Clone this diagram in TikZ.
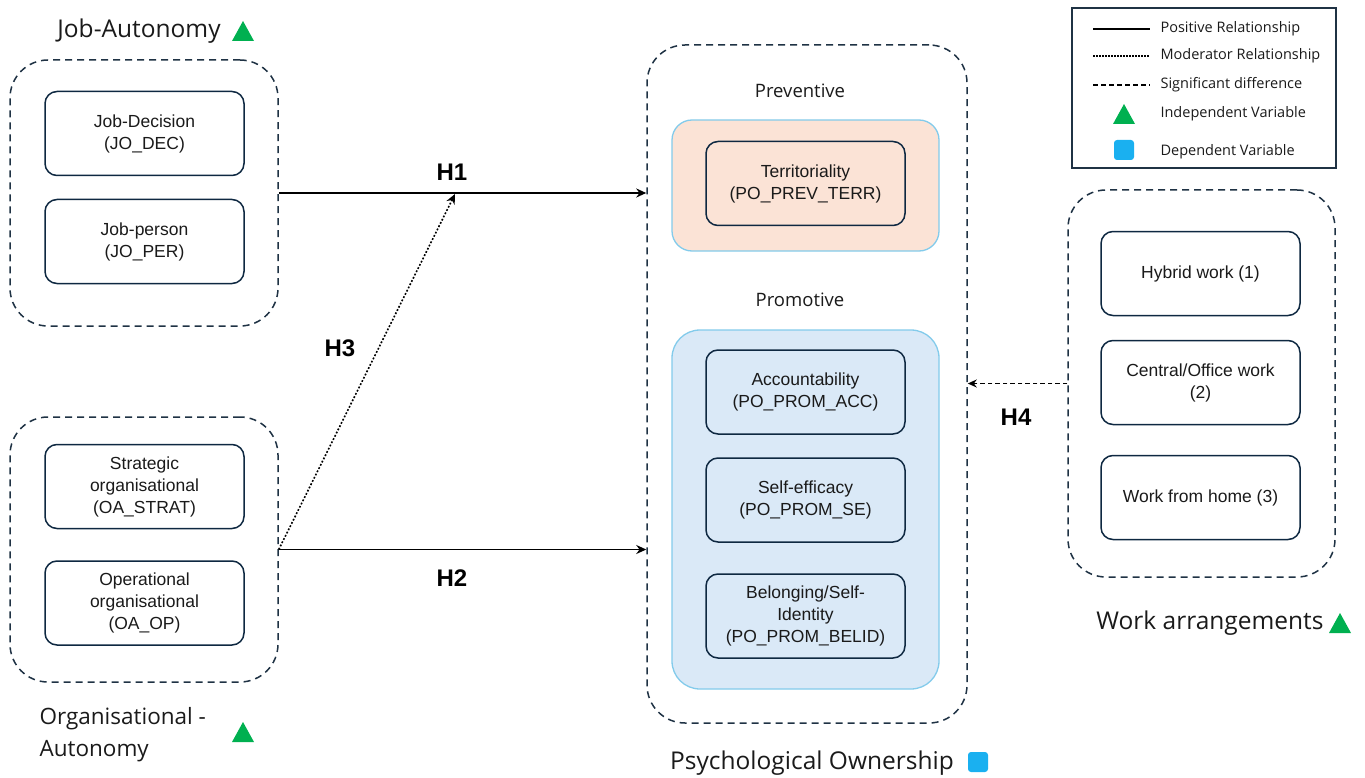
\documentclass[tikz,border=0pt]{standalone}
\usepackage{fontspec}
\setmainfont{Liberation Sans}
\newfontfamily\headfont{Open Sans}
\usetikzlibrary{arrows.meta,positioning}
\definecolor{navy}{HTML}{1F3244}
\definecolor{boxline}{HTML}{0E2841}
\definecolor{peach}{HTML}{FBE3D6}
\definecolor{paleblue}{HTML}{DAE9F7}
\definecolor{skyline}{HTML}{83CBEB}
\definecolor{indepgreen}{HTML}{00B050}
\definecolor{depblue}{HTML}{1AB0F0}
\definecolor{txt}{HTML}{1A1A1A}

\begin{document}
\begin{tikzpicture}[x=1pt,y=-1pt,
  grp/.style={draw=navy, line width=1.5pt, dash pattern=on 7pt off 5pt, rounded corners=38pt, inner sep=0pt},
  item/.style={draw=boxline, line width=1.5pt, rounded corners=12pt, minimum width=199pt, minimum height=84pt,
    align=center, inner sep=2pt, text=txt, font=\fontsize{17.5}{22}\selectfont},
  sub/.style={draw=skyline, line width=1.3pt, rounded corners=20pt, minimum width=267pt, inner sep=0pt},
  head/.style={text=txt, font=\headfont\fontsize{24.5}{32}\selectfont},
  hyp/.style={font=\bfseries\fontsize{24}{26}\selectfont},
  legtxt/.style={anchor=west, text=txt, font=\headfont\fontsize{14.5}{16}\selectfont},
  link/.style={line width=1.8pt, -{Stealth[length=10pt,width=9pt]}},
  indep/.pic={\fill[indepgreen] (-11,10) -- (11,10) -- (0,-10) -- cycle;},
  dep/.pic={\fill[depblue, rounded corners=3pt] (-10,-10) rectangle (10,10);}]
\useasboundingbox (0,0) rectangle (1365,778);

% job autonomy
\node[grp, minimum width=268pt, minimum height=266pt] (ja) at (144,193) {};
\node[item] (jodec) at (144.5,133.5) {Job-Decision\\(JO\_DEC)};
\node[item] (joper) at (144.5,241.5) {Job-person\\(JO\_PER)};
\node[head] (jahead) at (139,31) {Job-Autonomy};
\pic at (243,31) {indep};

% organisational autonomy
\node[grp, minimum width=268pt, minimum height=265pt] (oa) at (144,549.5) {};
\node[item] (oastrat) at (144.5,486.5) {Strategic\\organisational\\(OA\_STRAT)};
\node[item] (oaop) at (144.5,603) {Operational\\organisational\\(OA\_OP)};
\node[head, anchor=west, align=left, font=\headfont\fontsize{22.5}{32}\selectfont] (oahead) at (36,735) {Organisational -\\Autonomy};
\pic at (243,732) {indep};

% psychological ownership
\node[grp, minimum width=320pt, minimum height=678pt] (po) at (807,384) {};
\node[sub, fill=peach, minimum height=131pt] (prev) at (805.5,185.5) {};
\node[sub, fill=paleblue, minimum height=359pt, rounded corners=28pt] (prom) at (805.5,509.5) {};
\node[text=txt, font=\headfont\fontsize{18.5}{20}\selectfont] (prevhead) at (800,91) {Preventive};
\node[text=txt, font=\headfont\fontsize{18.5}{20}\selectfont] (promhead) at (800,300) {Promotive};
\node[item] (terr) at (805.5,183.5) {Territoriality\\(PO\_PREV\_TERR)};
\node[item] (acc) at (805.5,392) {Accountability\\(PO\_PROM\_ACC)};
\node[item] (se) at (805.5,500) {Self-efficacy\\(PO\_PROM\_SE)};
\node[item] (belid) at (805.5,616) {Belonging/Self-\\Identity\\(PO\_PROM\_BELID)};
\node[head] (pohead) at (812,763) {Psychological Ownership};
\pic at (978,762) {dep};

% work arrangements
\node[grp, minimum width=267pt, minimum height=387pt] (wa) at (1201.5,383.5) {};
\node[item] (hybrid) at (1200.5,273.5) {Hybrid work (1)};
\node[item] (office) at (1200.5,382.5) {Central/Office work\\(2)};
\node[item] (home) at (1200.5,497.5) {Work from home (3)};
\node[head] (wahead) at (1210,623) {Work arrangements};
\pic at (1340,623) {indep};

% hypotheses
\coordinate (h3end) at (455,194);
\draw[link] (ja.east) -- (ja.east -| po.west);
\draw[link] (oa.east) -- (oa.east -| po.west);
\draw[link, line width=1.6pt, dash pattern=on 1.8pt off 1.8pt] (oa.east) -- (h3end);
\draw[link, line width=1.4pt, dash pattern=on 4.5pt off 3pt, -{Stealth[length=9pt,width=8pt]}] (wa.west) -- (wa.west -| po.east);
\node[hyp] (h1) at (452,172) {H1};
\node[hyp] (h2) at (452,578) {H2};
\node[hyp] (h3) at (340,348) {H3};
\node[hyp] (h4) at (1016,417) {H4};

% legend
\node[draw=navy, line width=1.8pt, minimum width=264pt, minimum height=160pt, inner sep=0pt] (legend) at (1204,88) {};
\draw[line width=1.6pt] (1093,29) -- (1150,29);
\draw[line width=1.5pt, dash pattern=on 1.5pt off 1.5pt] (1093,56) -- (1150,56);
\draw[line width=1.5pt, dash pattern=on 5pt off 3pt] (1093,85) -- (1150,85);
\pic at (1124,114) {indep};
\pic at (1124,150) {dep};
\node[legtxt] (lpos) at (1157,29) {Positive Relationship};
\node[legtxt] (lmod) at (1157,56) {Moderator Relationship};
\node[legtxt] (lsig) at (1157,85) {Significant difference};
\node[legtxt] (lind) at (1157,114) {Independent Variable};
\node[legtxt] (ldep) at (1157,152) {Dependent Variable};
\end{tikzpicture}
\end{document}
